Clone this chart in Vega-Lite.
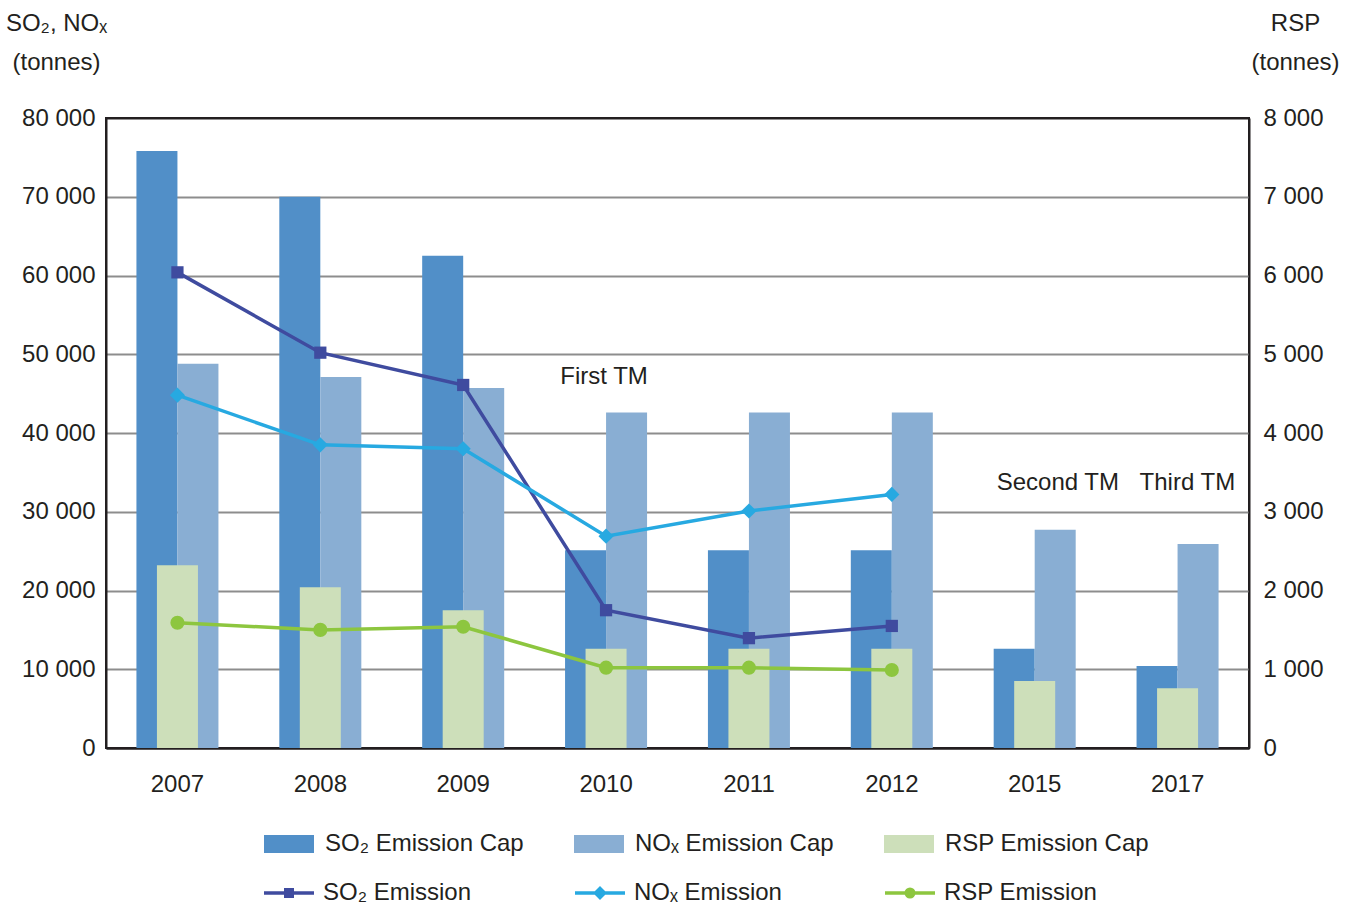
{
  "$schema": "https://vega.github.io/schema/vega-lite/v6.json",
  "width": 1143,
  "height": 630,
  "autosize": {"type": "none"},
  "padding": {"left": 106, "top": 118, "right": 105, "bottom": 158},
  "background": "white",
  "config": {
    "font": "Liberation Sans",
    "view": {"stroke": "#231f20", "strokeWidth": 2},
    "axis": {
      "labelFont": "Liberation Sans",
      "labelFontSize": 24,
      "labelColor": "#231f20",
      "titleFont": "Liberation Sans",
      "titleFontSize": 24,
      "titleFontWeight": "normal",
      "titleColor": "#231f20",
      "ticks": false,
      "domainColor": "#231f20",
      "domainWidth": 2
    },
    "axisX": {"labelPadding": 24, "labelAngle": 0, "grid": false, "zindex": 1},
    "legend": {"labelFont": "Liberation Sans", "labelFontSize": 24, "labelColor": "#231f20", "labelLimit": 0}
  },
  "datasets": {
    "capsLeft": [
      {"year": "2007", "series": "SO₂ Emission Cap", "value": 75800},
      {"year": "2008", "series": "SO₂ Emission Cap", "value": 70000},
      {"year": "2009", "series": "SO₂ Emission Cap", "value": 62500},
      {"year": "2010", "series": "SO₂ Emission Cap", "value": 25120},
      {"year": "2011", "series": "SO₂ Emission Cap", "value": 25120},
      {"year": "2012", "series": "SO₂ Emission Cap", "value": 25120},
      {"year": "2015", "series": "SO₂ Emission Cap", "value": 12600},
      {"year": "2017", "series": "SO₂ Emission Cap", "value": 10400},
      {"year": "2007", "series": "NOₓ Emission Cap", "value": 48800},
      {"year": "2008", "series": "NOₓ Emission Cap", "value": 47100},
      {"year": "2009", "series": "NOₓ Emission Cap", "value": 45700},
      {"year": "2010", "series": "NOₓ Emission Cap", "value": 42600},
      {"year": "2011", "series": "NOₓ Emission Cap", "value": 42600},
      {"year": "2012", "series": "NOₓ Emission Cap", "value": 42600},
      {"year": "2015", "series": "NOₓ Emission Cap", "value": 27700},
      {"year": "2017", "series": "NOₓ Emission Cap", "value": 25900}
    ],
    "capsRsp": [
      {"year": "2007", "series": "RSP Emission Cap", "value": 2320},
      {"year": "2008", "series": "RSP Emission Cap", "value": 2040},
      {"year": "2009", "series": "RSP Emission Cap", "value": 1750},
      {"year": "2010", "series": "RSP Emission Cap", "value": 1260},
      {"year": "2011", "series": "RSP Emission Cap", "value": 1260},
      {"year": "2012", "series": "RSP Emission Cap", "value": 1260},
      {"year": "2015", "series": "RSP Emission Cap", "value": 850},
      {"year": "2017", "series": "RSP Emission Cap", "value": 760}
    ],
    "emisLeft": [
      {"year": "2007", "series": "SO₂ Emission", "value": 60400},
      {"year": "2008", "series": "SO₂ Emission", "value": 50200},
      {"year": "2009", "series": "SO₂ Emission", "value": 46100},
      {"year": "2010", "series": "SO₂ Emission", "value": 17500},
      {"year": "2011", "series": "SO₂ Emission", "value": 13950},
      {"year": "2012", "series": "SO₂ Emission", "value": 15500},
      {"year": "2007", "series": "NOₓ Emission", "value": 44800},
      {"year": "2008", "series": "NOₓ Emission", "value": 38500},
      {"year": "2009", "series": "NOₓ Emission", "value": 38000},
      {"year": "2010", "series": "NOₓ Emission", "value": 26900},
      {"year": "2011", "series": "NOₓ Emission", "value": 30100},
      {"year": "2012", "series": "NOₓ Emission", "value": 32200}
    ],
    "emisRsp": [
      {"year": "2007", "series": "RSP Emission", "value": 1590},
      {"year": "2008", "series": "RSP Emission", "value": 1500},
      {"year": "2009", "series": "RSP Emission", "value": 1540},
      {"year": "2010", "series": "RSP Emission", "value": 1020},
      {"year": "2011", "series": "RSP Emission", "value": 1020},
      {"year": "2012", "series": "RSP Emission", "value": 990}
    ],
    "note1": [
      {"year": "2010", "label": "First TM", "value": 47100}
    ],
    "note2": [
      {"year": "2015", "label": "Second TM", "value": 33650},
      {"year": "2017", "label": "Third TM", "value": 33650}
    ]
  },
  "layer": [
    {
      "data": {"name": "capsLeft"},
      "mark": {"type": "bar"},
      "encoding": {
        "x": {"field": "year", "type": "ordinal", "title": null, "scale": {"paddingInner": 0.426, "paddingOuter": 0.213}},
        "xOffset": {"field": "series", "type": "nominal", "scale": {"domain": ["SO₂ Emission Cap", "NOₓ Emission Cap"], "paddingInner": 0, "paddingOuter": 0}},
        "y": {
          "field": "value", "type": "quantitative",
          "scale": {"domain": [0, 80000], "nice": false},
          "axis": {
            "orient": "left",
            "values": [0, 10000, 20000, 30000, 40000, 50000, 60000, 70000, 80000],
            "grid": true,
            "gridWidth": 2,
            "gridColor": {"condition": {"test": "datum.value === 0 || datum.value === 80000", "value": "#231f20"}, "value": "#8d8d8d"},
            "labelPadding": 11,
            "labelExpr": "replace(format(datum.value, ','), ',', ' ')",
            "title": ["SO₂, NOₓ", "(tonnes)"],
            "titleAngle": 0,
            "titleAlign": "center",
            "titleBaseline": "alphabetic",
            "titleX": -50,
            "titleY": -88,
            "titleLineHeight": 39
          }
        },
        "fill": {
          "field": "series", "type": "nominal",
          "scale": {"domain": ["SO₂ Emission Cap", "NOₓ Emission Cap", "RSP Emission Cap"], "range": ["#518fc8", "#89aed3", "#cddfba"]},
          "legend": {
            "title": null,
            "orient": "none",
            "legendX": 158,
            "legendY": 701,
            "direction": "horizontal",
            "columns": 3,
            "symbolType": "M-1,-0.36H1V0.36H-1Z",
            "symbolSize": 2500,
            "symbolStrokeWidth": 0,
            "symbolOpacity": 1,
            "labelOffset": 11,
            "columnPadding": 50
          }
        }
      }
    },
    {
      "data": {"name": "capsRsp"},
      "mark": {"type": "bar", "width": {"band": 0.5}},
      "encoding": {
        "x": {"field": "year", "type": "ordinal", "title": null, "scale": {"paddingInner": 0.426, "paddingOuter": 0.213}},
        "y": {
          "field": "value", "type": "quantitative",
          "scale": {"domain": [0, 8000], "nice": false},
          "axis": {
            "orient": "right",
            "values": [0, 1000, 2000, 3000, 4000, 5000, 6000, 7000, 8000],
            "grid": false,
            "labelPadding": 14,
            "labelExpr": "replace(format(datum.value, ','), ',', ' ')",
            "title": ["RSP", "(tonnes)"],
            "titleAngle": 0,
            "titleAlign": "center",
            "titleBaseline": "alphabetic",
            "titleX": 46,
            "titleY": -88,
            "titleLineHeight": 39
          }
        },
        "fill": {"field": "series", "type": "nominal"}
      }
    },
    {
      "data": {"name": "emisLeft"},
      "layer": [
        {
          "mark": {"type": "line", "strokeWidth": 3.5},
          "encoding": {
            "x": {"field": "year", "type": "ordinal", "title": null, "scale": {"paddingInner": 0.426, "paddingOuter": 0.213}},
            "y": {"field": "value", "type": "quantitative", "scale": {"domain": [0, 80000], "nice": false}, "axis": null},
            "stroke": {
              "field": "series", "type": "nominal",
              "scale": {"domain": ["SO₂ Emission", "NOₓ Emission", "RSP Emission"], "range": ["#3f4b9f", "#27a9e1", "#8dc63f"]},
              "legend": {
                "title": null,
                "orient": "none",
                "legendX": 156,
                "legendY": 748,
                "direction": "horizontal",
                "columns": 3,
                "symbolType": "M-1,0H1",
                "symbolSize": 2500,
                "symbolStrokeWidth": 3.5,
                "labelOffset": 7,
                "columnPadding": 96,
                "encode": {
                  "symbols": {
                    "update": {
                      "shape": {"signal": "datum.value === 'SO₂ Emission' ? 'M-1,0H1M-0.13,-0.13H0.13V0.13H-0.13Z' : datum.value === 'NOₓ Emission' ? 'M-1,0H1M0,-0.18L0.18,0L0,0.18L-0.18,0Z' : 'M-1,0H1M0.15,0A0.15,0.15,0,1,1,-0.15,0A0.15,0.15,0,1,1,0.15,0Z'"},
                      "fill": {"signal": "datum.value === 'SO₂ Emission' ? '#3f4b9f' : datum.value === 'NOₓ Emission' ? '#27a9e1' : '#8dc63f'"},
                      "opacity": {"value": 1}
                    }
                  }
                }
              }
            }
          }
        },
        {
          "transform": [{"filter": "datum.series === 'SO₂ Emission'"}],
          "mark": {"type": "point", "shape": "square", "size": 150, "filled": true, "opacity": 1, "color": "#3f4b9f"},
          "encoding": {
            "x": {"field": "year", "type": "ordinal", "title": null, "scale": {"paddingInner": 0.426, "paddingOuter": 0.213}},
            "y": {"field": "value", "type": "quantitative", "scale": {"domain": [0, 80000], "nice": false}, "axis": null}
          }
        },
        {
          "transform": [{"filter": "datum.series === 'NOₓ Emission'"}],
          "mark": {"type": "point", "shape": "diamond", "size": 230, "filled": true, "opacity": 1, "color": "#27a9e1"},
          "encoding": {
            "x": {"field": "year", "type": "ordinal", "title": null, "scale": {"paddingInner": 0.426, "paddingOuter": 0.213}},
            "y": {"field": "value", "type": "quantitative", "scale": {"domain": [0, 80000], "nice": false}, "axis": null}
          }
        }
      ]
    },
    {
      "data": {"name": "emisRsp"},
      "layer": [
        {
          "mark": {"type": "line", "strokeWidth": 3.5},
          "encoding": {
            "x": {"field": "year", "type": "ordinal", "title": null, "scale": {"paddingInner": 0.426, "paddingOuter": 0.213}},
            "y": {"field": "value", "type": "quantitative", "scale": {"domain": [0, 8000], "nice": false}, "axis": null},
            "stroke": {"field": "series", "type": "nominal"}
          }
        },
        {
          "mark": {"type": "point", "shape": "circle", "size": 200, "filled": true, "opacity": 1, "color": "#8dc63f"},
          "encoding": {
            "x": {"field": "year", "type": "ordinal", "title": null, "scale": {"paddingInner": 0.426, "paddingOuter": 0.213}},
            "y": {"field": "value", "type": "quantitative", "scale": {"domain": [0, 8000], "nice": false}, "axis": null}
          }
        }
      ]
    },
    {
      "data": {"name": "note1"},
      "mark": {"type": "text", "fontSize": 24, "font": "Liberation Sans", "color": "#231f20", "align": "center", "baseline": "middle", "dx": -2},
      "encoding": {
        "x": {"field": "year", "type": "ordinal", "title": null, "scale": {"paddingInner": 0.426, "paddingOuter": 0.213}},
        "y": {"field": "value", "type": "quantitative", "scale": {"domain": [0, 80000], "nice": false}, "axis": null},
        "text": {"field": "label"}
      }
    },
    {
      "data": {"name": "note2"},
      "mark": {"type": "text", "fontSize": 24, "font": "Liberation Sans", "color": "#231f20", "align": "left", "baseline": "middle", "dx": -38},
      "encoding": {
        "x": {"field": "year", "type": "ordinal", "title": null, "scale": {"paddingInner": 0.426, "paddingOuter": 0.213}},
        "y": {"field": "value", "type": "quantitative", "scale": {"domain": [0, 80000], "nice": false}, "axis": null},
        "text": {"field": "label"}
      }
    }
  ],
  "resolve": {"scale": {"y": "independent"}, "axis": {"y": "independent"}}
}
